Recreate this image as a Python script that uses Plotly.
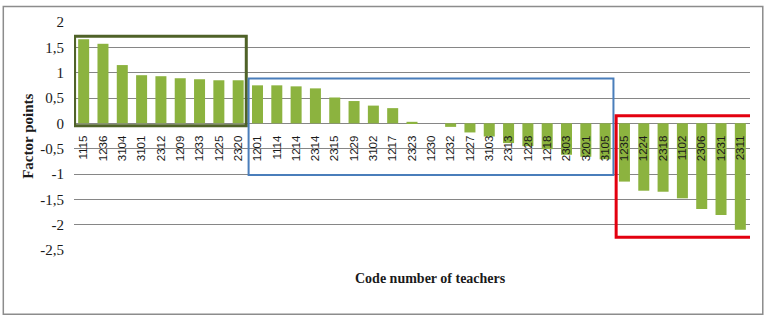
import plotly.graph_objects as go

teachers = ["1115", "1236", "3104", "3101", "2312", "1209", "1233", "1225", "2320",
            "1201", "1114", "1214", "2314", "2315", "1229", "3102", "1217", "2323",
            "1230", "1232", "1227", "3103", "2313", "1228", "1218", "2303", "3201",
            "3105", "1235", "1224", "2318", "1102", "2306", "1231", "2311"]
factor_points = [1.66, 1.57, 1.15, 0.95, 0.93, 0.89, 0.87, 0.85, 0.85,
                 0.75, 0.75, 0.73, 0.69, 0.51, 0.44, 0.35, 0.30, 0.03,
                 0.0, -0.07, -0.18, -0.26, -0.39, -0.45, -0.51, -0.62, -0.66,
                 -0.71, -1.15, -1.33, -1.35, -1.48, -1.69, -1.81, -2.10]
y_tickvals = [2, 1.5, 1, 0.5, 0, -0.5, -1, -1.5, -2, -2.5]
y_ticktext = ["2", "1,5", "1", "0,5", "0", "-0,5", "-1", "-1,5", "-2", "-2,5"]

fig = go.Figure(go.Bar(
    x=teachers, y=factor_points,
    marker=dict(color="#8cb33f", line=dict(width=0)),
    hoverinfo="x+y",
))

W, H = 771, 324
ml, mr, mt, mb = 73.5, 20.5, 21.5, 74
pw, ph = W - ml - mr, H - mt - mb

def px_x(p):
    return (p - ml) / pw

def px_y(p):
    return (H - mb - p) / ph

serif = "Liberation Serif, Times New Roman, serif"
sans = "Liberation Sans, Arial, sans-serif"

fig.update_layout(
    width=W, height=H, autosize=False,
    margin=dict(l=ml, r=mr, t=mt, b=mb, pad=0),
    paper_bgcolor="white", plot_bgcolor="white",
    bargap=0.43, showlegend=False,
    xaxis=dict(type="category", range=[-0.5, len(teachers) - 0.5],
               anchor="free", position=2.5 / 4.5,
               tickangle=-90, ticks="", showgrid=False, showline=False,
               zeroline=False, ticklabelstandoff=9,
               tickfont=dict(family=sans, size=11.5, color="#1a1a1a")),
    yaxis=dict(range=[-2.5, 2], tickvals=y_tickvals, ticktext=y_ticktext,
               showgrid=True, gridcolor="#868686", gridwidth=1,
               zeroline=False, showline=False, ticks="",
               ticklabelstandoff=9,
               tickfont=dict(family=serif, size=15, color="#1a1a1a")),
    shapes=[
        dict(type="rect", xref="paper", yref="paper",
             x0=px_x(2.7), x1=px_x(763.3), y0=px_y(314.5), y1=px_y(6),
             line=dict(color="#8c8c8c", width=1.5), layer="below"),
        dict(type="rect", xref="x", yref="y", x0=-0.47, x1=8.42, y0=-0.05, y1=1.72,
             line=dict(color="#4f6228", width=3)),
        dict(type="rect", xref="x", yref="y", x0=8.54, x1=27.43, y0=-1.02, y1=0.885,
             line=dict(color="#4a7ebb", width=2)),
        dict(type="rect", xref="x", yref="y", x0=27.57, x1=34.81, y0=-2.25, y1=0.15,
             line=dict(color="#e3000f", width=3)),
    ],
    annotations=[
        dict(text="<b>Code number of teachers</b>", xref="paper", yref="paper",
             x=px_x(431), y=px_y(279), xanchor="center", yanchor="middle",
             showarrow=False, font=dict(family=serif, size=14, color="#1a1a1a")),
        dict(text="<b>Factor points</b>", xref="paper", yref="paper",
             x=px_x(28), y=px_y(136), xanchor="center", yanchor="middle",
             textangle=-90, showarrow=False,
             font=dict(family=serif, size=15, color="#1a1a1a")),
    ],
)

fig.write_html("out.html")
